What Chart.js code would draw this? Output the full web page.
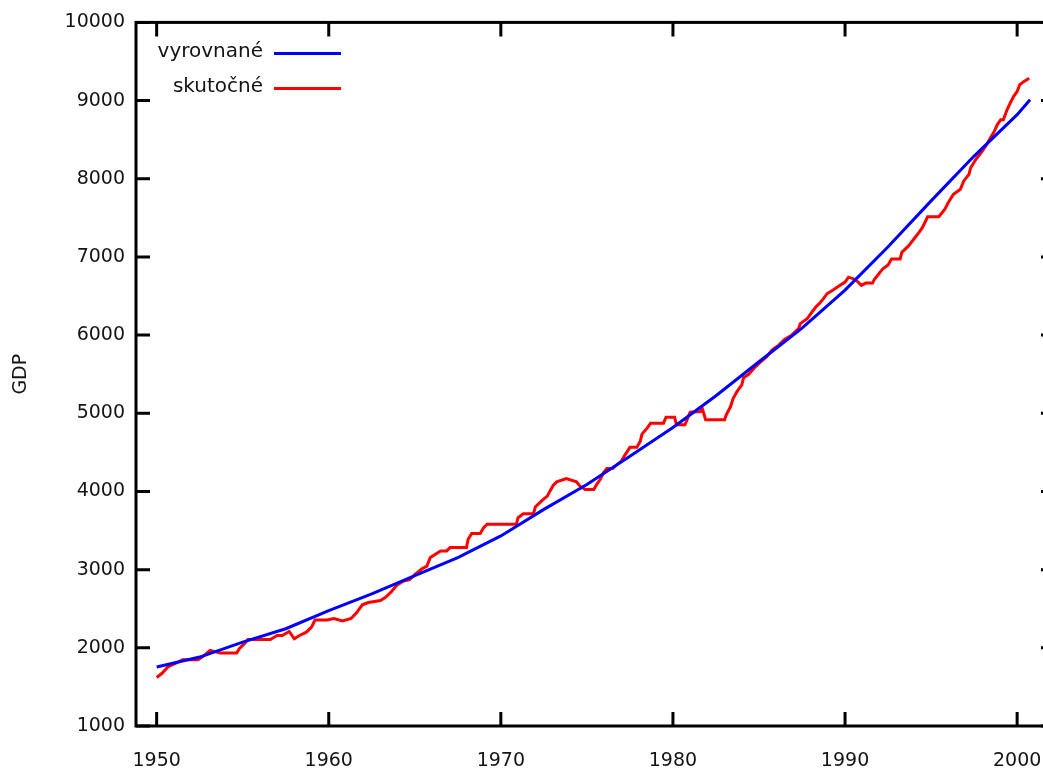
<!DOCTYPE html>
<html>
<head>
<meta charset="utf-8">
<script src="https://cdn.jsdelivr.net/npm/chart.js@4"></script>
<style>
  html, body { margin: 0; padding: 0; background: #fff; overflow: hidden; }
  #wrap { width: 1060px; height: 771px; }
</style>
</head>
<body>
<div id="wrap"><canvas id="chart" width="1060" height="771"></canvas></div>
<script>
// --- Data ---
const seriesLabels = ['vyrovnané', 'skutočné'];
const seriesColors = ['#0000ff', '#ff0000'];

// fitted trend (vyrovnané)
const fitYears = [1950, 1952.5, 1955, 1957.5, 1960, 1962.5, 1965, 1967.5, 1970, 1972.5,
  1975, 1977.5, 1980, 1982.5, 1985, 1987.5, 1990, 1992.5, 1995, 1997.5, 2000, 2000.75];
const fitValues = [1755, 1882, 2073, 2244, 2477, 2689, 2922, 3155, 3431, 3771,
  4090, 4450, 4819, 5224, 5659, 6090, 6575, 7130, 7717, 8290, 8820, 9011];

// actual GDP (skutočné)
const gdpYears = [
  1950.0, 1950.3, 1950.65, 1951.15, 1951.5, 1952.4, 1952.7, 1953.1, 1953.7, 1954.65,
  1954.8, 1955.1, 1955.3, 1956.6, 1957.0, 1957.3, 1957.7, 1958.0, 1958.3, 1958.7,
  1959.0, 1959.2, 1959.9, 1960.3, 1960.8, 1961.3, 1961.6, 1961.95, 1962.3, 1963.0,
  1963.3, 1963.65, 1963.95, 1964.3, 1964.7, 1965.0, 1965.4, 1965.7, 1965.9, 1966.2,
  1966.5, 1966.85, 1967.05, 1968.0, 1968.1, 1968.3, 1968.8, 1969.0, 1969.2, 1970.9,
  1971.0, 1971.3, 1971.9, 1972.0, 1972.4, 1972.7, 1972.85, 1973.05, 1973.25, 1973.8,
  1974.4, 1974.6, 1974.9, 1975.4, 1975.57, 1975.77, 1975.96, 1976.16, 1976.5, 1976.7,
  1977.0, 1977.2, 1977.5, 1977.9, 1978.1, 1978.2, 1978.5, 1978.7, 1979.45, 1979.6,
  1980.1, 1980.2, 1980.7, 1981.0, 1981.6, 1981.7, 1981.9, 1983.0, 1983.1, 1983.35,
  1983.5, 1983.72, 1984.0, 1984.1, 1984.4, 1984.7, 1985.1, 1985.45, 1985.75, 1986.15,
  1986.5, 1986.9, 1987.3, 1987.4, 1987.8, 1987.97, 1988.3, 1988.5, 1988.75, 1988.95,
  1989.35, 1989.6, 1990.0, 1990.2, 1990.6, 1990.95, 1991.2, 1991.6, 1991.7, 1992.0,
  1992.2, 1992.5, 1992.7, 1993.2, 1993.3, 1993.7, 1994.0, 1994.3, 1994.5, 1994.8,
  1995.45, 1995.8, 1996.0, 1996.3, 1996.7, 1996.9, 1997.2, 1997.3, 1997.6, 1997.9,
  1998.2, 1998.45, 1998.65, 1998.85, 1999.05, 1999.2, 1999.4, 1999.6, 1999.8, 2000.0,
  2000.15, 2000.4, 2000.7];
const gdpValues = [
  1620, 1671, 1755, 1806, 1849, 1849, 1891, 1967, 1933, 1933,
  1989, 2053, 2107, 2107, 2158, 2158, 2209, 2116, 2158, 2200,
  2264, 2355, 2355, 2375, 2345, 2375, 2445, 2550, 2580, 2604,
  2646, 2720, 2800, 2850, 2871, 2935, 3008, 3045, 3155, 3198,
  3240, 3240, 3282, 3282, 3389, 3461, 3461, 3537, 3580, 3580,
  3664, 3715, 3715, 3801, 3886, 3941, 4004, 4081, 4123, 4166,
  4123, 4068, 4026, 4026, 4090, 4153, 4238, 4293, 4293, 4335,
  4386, 4462, 4564, 4564, 4641, 4734, 4810, 4874, 4874, 4950,
  4950, 4853, 4853, 5014, 5023, 5065, 4917, 4917, 4980, 5086,
  5192, 5277, 5362, 5456, 5498, 5574, 5659, 5723, 5808, 5872,
  5948, 5999, 6083, 6147, 6211, 6262, 6359, 6402, 6466, 6529,
  6584, 6623, 6678, 6741, 6712, 6636, 6665, 6665, 6712, 6795,
  6847, 6898, 6974, 6974, 7059, 7144, 7229, 7314, 7378, 7514,
  7514, 7611, 7696, 7802, 7866, 7972, 8056, 8141, 8247, 8332,
  8425, 8523, 8596, 8693, 8756, 8756, 8875, 8969, 9054, 9117,
  9202, 9245, 9287];

const xTicks = [1950, 1960, 1970, 1980, 1990, 2000];
const yTicks = [1000, 2000, 3000, 4000, 5000, 6000, 7000, 8000, 9000, 10000];

// --- Helpers ---
function pairs(xs, ys) {
  return xs.map((x, i) => ({ x: x, y: ys[i] }));
}

const FONT = 'DejaVu Sans';
const TEXT = '#141414';

// frame with inward ticks on all four sides (gnuplot style)
const framePlugin = {
  id: 'frame',
  afterDatasetsDraw(chart) {
    const { ctx, chartArea: a, scales } = chart;
    const tl = 14;
    ctx.save();
    ctx.strokeStyle = '#000';
    ctx.lineWidth = 3;
    ctx.strokeRect(a.left, a.top, a.right - a.left, a.bottom - a.top);
    ctx.beginPath();
    scales.x.ticks.forEach(t => {
      const px = scales.x.getPixelForValue(t.value);
      ctx.moveTo(px, a.bottom); ctx.lineTo(px, a.bottom - tl);
      ctx.moveTo(px, a.top); ctx.lineTo(px, a.top + tl);
    });
    scales.y.ticks.forEach(t => {
      const py = scales.y.getPixelForValue(t.value);
      ctx.moveTo(a.left, py); ctx.lineTo(a.left + tl, py);
      ctx.moveTo(a.right, py); ctx.lineTo(a.right - tl, py);
    });
    ctx.stroke();
    ctx.restore();
  }
};

// legend: right-aligned text followed by a line sample
const keyPlugin = {
  id: 'key',
  afterDraw(chart) {
    const { ctx, chartArea: a } = chart;
    const textRight = a.left + 127;
    const lineStart = a.left + 138;
    const lineEnd = a.left + 205;
    ctx.save();
    ctx.font = '20px "' + FONT + '"';
    ctx.textAlign = 'right';
    ctx.textBaseline = 'middle';
    chart.data.datasets.forEach((ds, i) => {
      const yy = a.top + 31 + i * 35;
      ctx.fillStyle = TEXT;
      ctx.fillText(ds.label, textRight, yy - 2);
      ctx.strokeStyle = ds.borderColor;
      ctx.lineWidth = 3;
      ctx.beginPath();
      ctx.moveTo(lineStart, yy);
      ctx.lineTo(lineEnd, yy);
      ctx.stroke();
    });
    ctx.restore();
  }
};

const ctx = document.getElementById('chart').getContext('2d');
new Chart(ctx, {
  type: 'line',
  data: {
    datasets: [
      {
        label: seriesLabels[0],
        data: pairs(fitYears, fitValues),
        borderColor: seriesColors[0],
        borderWidth: 3,
        pointRadius: 0,
        tension: 0,
        fill: false
      },
      {
        label: seriesLabels[1],
        data: pairs(gdpYears, gdpValues),
        borderColor: seriesColors[1],
        borderWidth: 3,
        pointRadius: 0,
        tension: 0,
        fill: false
      }
    ]
  },
  options: {
    responsive: false,
    animation: false,
    events: [],
    layout: { padding: { top: 19, right: 5, left: 0, bottom: 0 } },
    plugins: {
      legend: { display: false },
      tooltip: { enabled: false }
    },
    scales: {
      x: {
        type: 'linear',
        min: 1948.8,
        max: 2002.2,
        afterBuildTicks: scale => { scale.ticks = xTicks.map(v => ({ value: v })); },
        afterFit: scale => {
          scale.height = 45;
          scale.paddingLeft = 0;
          scale.paddingRight = 0;
        },
        grid: { display: false, drawTicks: false },
        border: { display: false },
        ticks: {
          padding: 24,
          color: TEXT,
          font: { family: FONT, size: 19 },
          callback: v => String(v)
        }
      },
      y: {
        type: 'linear',
        min: 1000,
        max: 10000,
        afterBuildTicks: scale => { scale.ticks = yTicks.map(v => ({ value: v })); },
        afterFit: scale => { scale.width = 136; },
        grid: { display: false, drawTicks: false },
        border: { display: false },
        title: {
          display: true,
          text: 'GDP',
          color: TEXT,
          font: { family: FONT, size: 19 },
          padding: { top: 10, bottom: 0 }
        },
        ticks: {
          padding: 11,
          color: TEXT,
          font: { family: FONT, size: 19 },
          callback: v => String(v)
        }
      }
    }
  },
  plugins: [framePlugin, keyPlugin]
});
</script>
</body>
</html>
